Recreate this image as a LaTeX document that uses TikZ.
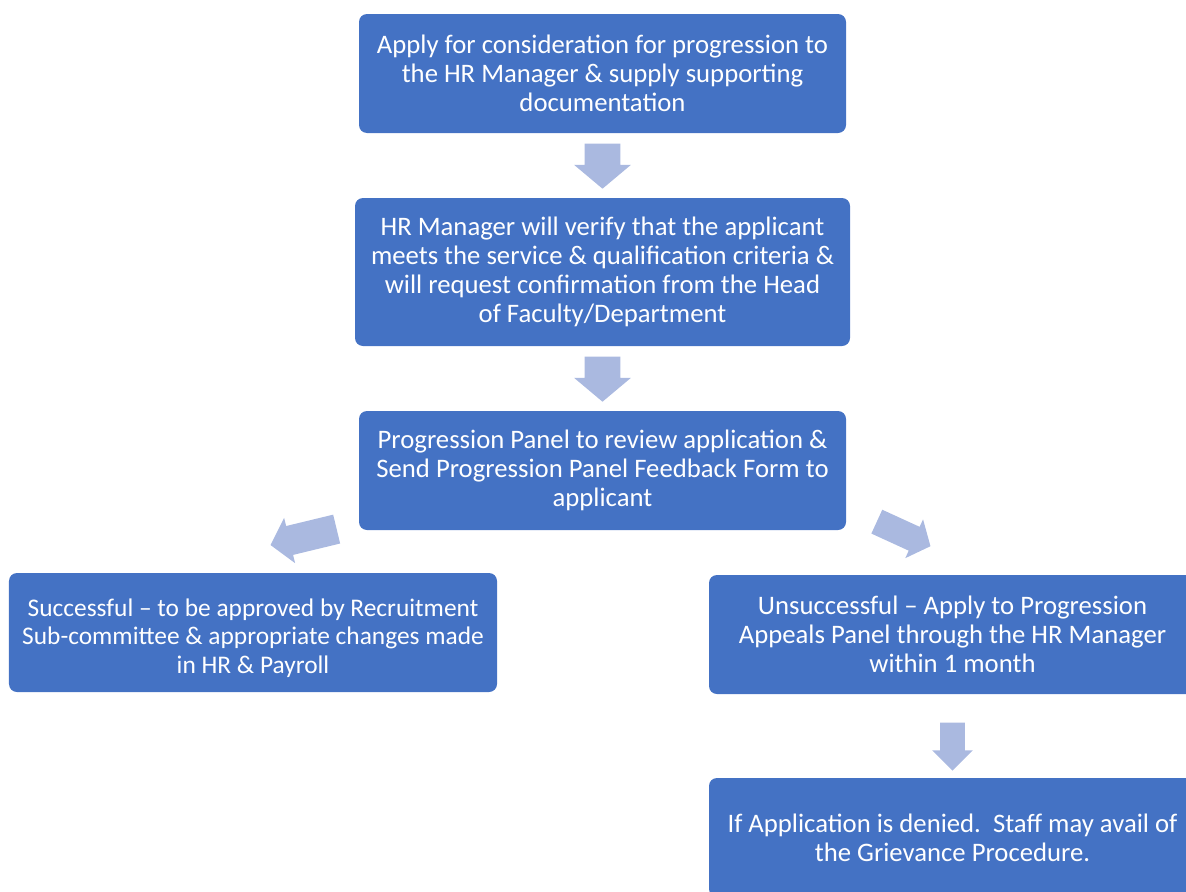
\documentclass[tikz,border=0pt]{standalone}
\usepackage{fontspec}
\setmainfont{Carlito}
\usetikzlibrary{shapes.arrows,calc}
\definecolor{boxblue}{RGB}{68,114,196}
\definecolor{arrowblue}{RGB}{170,185,224}
\begin{document}
\begin{tikzpicture}[line join=round, line cap=round,
	stepbox/.style={fill=boxblue, draw=none, rounded corners=0.16cm, text=white, align=center,
		font=\fontsize{15.2}{16.5}\selectfont, minimum height=2.38cm, minimum width=9.74cm, inner sep=0pt},
	blockarrow/.style={single arrow, fill=arrowblue, draw=none, inner xsep=0pt, minimum height=0.9cm,
		inner ysep=0.35cm, single arrow head extend=0.21cm, single arrow tip angle=100, anchor=tail}]
	\useasboundingbox (0,0) rectangle (23.72,-17.84);
	\node[stepbox] (apply) at (12.05,-1.47) {Apply for consideration for progression to\\the HR Manager \& supply supporting\\documentation};
	\node[stepbox, minimum width=9.9cm, minimum height=2.96cm] (verify) at (12.05,-5.44)
		{HR Manager will verify that the applicant\\meets the service \& qualification criteria \&\\will request confirmation from the Head\\of Faculty/Department};
	\node[stepbox] (panel) at (12.05,-9.41) {Progression Panel to review application \&\\Send Progression Panel Feedback Form to\\applicant};
	\node[stepbox, minimum width=9.76cm, font=\fontsize{14.45}{16.3}\selectfont] (success) at (5.06,-12.65)
		{\rule{0pt}{16.3pt}Successful -- to be approved by Recruitment\\Sub-committee \& appropriate changes made\\in HR \& Payroll};
	\node[stepbox] (fail) at (19.05,-12.69) {Unsuccessful -- Apply to Progression\\Appeals Panel through the HR Manager\\within 1 month};
	\node[stepbox] (denied) at (19.05,-16.75) {If Application is denied.\ \ Staff may avail of\\the Grievance Procedure.};
	% block arrows between the steps
	\node[blockarrow, rotate=-90] (a1) at ($(apply.south)+(0,-0.2)$) {};
	\node[blockarrow, rotate=-90] (a2) at ($(verify.south)+(0,-0.2)$) {};
	\node[blockarrow, rotate=193.6, minimum height=1.36cm, inner ysep=0.29cm, single arrow head extend=0.17cm] (a3) at (6.74,-10.58) {};
	\node[blockarrow, rotate=-24.6, minimum height=1.18cm, inner ysep=0.255cm, single arrow head extend=0.165cm] (a4) at (17.53,-10.43) {};
	\node[blockarrow, rotate=-90, minimum height=0.96cm, inner ysep=0.24cm, single arrow head extend=0.16cm, single arrow tip angle=90] (a5) at ($(fail.south)+(0,-0.56)$) {};
\end{tikzpicture}
\end{document}
